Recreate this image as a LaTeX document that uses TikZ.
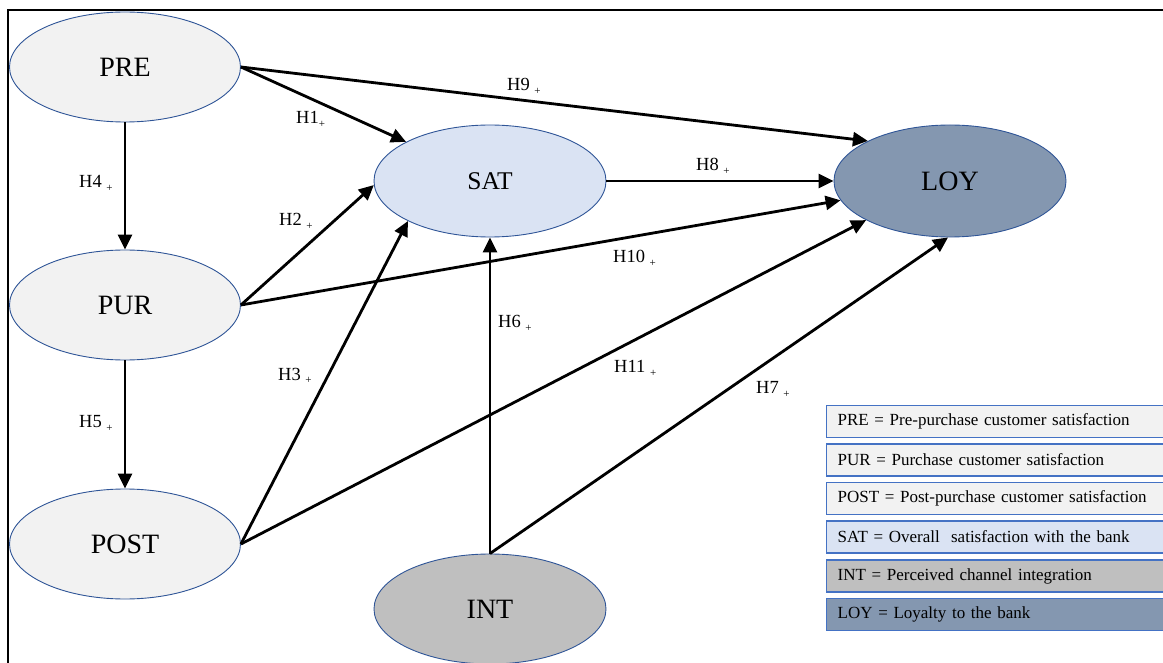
\documentclass[tikz,border=0pt]{standalone}
\usepackage{fontspec}
\setmainfont{Liberation Serif}
\usetikzlibrary{shapes.geometric,arrows.meta}

\definecolor{lightfill}{HTML}{F2F2F2}
\definecolor{satfill}{HTML}{DAE3F3}
\definecolor{intfill}{HTML}{BFBFBF}
\definecolor{loyfill}{HTML}{8497B0}
\definecolor{ellborder}{HTML}{2F5597}
\definecolor{boxborder}{HTML}{4472C4}

% small lowered plus sign after each hypothesis label
\newcommand{\subplus}{\raisebox{-4pt}{\fontsize{11}{11}\selectfont +}}

\tikzset{
  construct/.style={ellipse, draw=ellborder, line width=0.9pt, minimum width=231pt,
    minimum height=110pt, inner sep=0pt, font=\fontsize{28}{30}\selectfont},
  path/.style={line width=2.8pt, -{Triangle[length=15pt,width=14pt]}},
  hyp/.style={anchor=base west, inner sep=0pt, font=\fontsize{18.5}{20}\selectfont},
  legend/.style={rectangle, draw=boxborder, line width=1.3pt, anchor=west,
    minimum width=344pt, minimum height=32pt, inner xsep=11pt, inner ysep=0pt,
    text width=322pt, align=left, font=\fontsize{17}{19}\selectfont},
  frameline/.style={line width=2pt}
}

\begin{document}
\begin{tikzpicture}[x=1pt, y=-1pt]
  \useasboundingbox (0,0) rectangle (1163,663);
  \clip (0,0) rectangle (1163,663);

  % outer frame (top and left edges)
  \coordinate (fTL) at (8,10);
  \coordinate (fTR) at (1170,10);
  \coordinate (fBL) at (8,670);
  \draw[frameline] (fTR) -- (fTL) -- (fBL);

  % constructs
  \node[construct, fill=lightfill] (PRE)  at (125,67)  {PRE};
  \node[construct, fill=lightfill] (PUR)  at (125,305) {PUR};
  \node[construct, fill=lightfill] (POST) at (125,544) {POST};
  \node[construct, fill=satfill, minimum width=232pt, minimum height=112pt,
        font=\fontsize{25.5}{27}\selectfont] (SAT) at (490,181) {SAT};
  \node[construct, fill=loyfill, minimum width=232pt, minimum height=112pt] (LOY) at (950,181) {LOY};
  \node[construct, fill=intfill, minimum width=232pt] (INT) at (490,609) {INT};

  % structural paths
  \draw[path] (PRE.south) -- (PUR.north);
  \draw[path] (PUR.south) -- (POST.north);
  \draw[path] (PRE.east) -- (SAT.155);
  \draw[path] (PRE.east) -- (LOY.154);
  \draw[path] (PUR.east) -- (SAT.182);
  \draw[path] (PUR.east) -- (LOY.190);
  \draw[path] (POST.east) -- (SAT.206);
  \draw[path] (POST.east) -- (LOY.205);
  \draw[path] (SAT.east) -- (LOY.west);
  \draw[path] (INT.north) -- (SAT.south);
  \draw[path] (INT.north) -- (LOY.268);

  % hypothesis labels
  \node[hyp] (lH1)  at (296,124) {H1\subplus};
  \node[hyp] (lH2)  at (279,226) {H2 \subplus};
  \node[hyp] (lH3)  at (278,380) {H3 \subplus};
  \node[hyp] (lH4)  at (79,188)  {H4 \subplus};
  \node[hyp] (lH5)  at (79,427)  {H5 \subplus};
  \node[hyp] (lH6)  at (498,327) {H6 \subplus};
  \node[hyp] (lH7)  at (756,393) {H7 \subplus};
  \node[hyp] (lH8)  at (696,171) {H8 \subplus};
  \node[hyp] (lH9)  at (507,91)  {H9 \subplus};
  \node[hyp] (lH10) at (613,263) {H10 \subplus};
  \node[hyp] (lH11) at (614,373) {H11 \subplus};

  % legend
  \node[legend, fill=lightfill] (legPRE)  at (826,421.5) {PRE = Pre-purchase customer satisfaction};
  \node[legend, fill=lightfill] (legPUR)  at (826,460)   {PUR = Purchase customer satisfaction};
  \node[legend, fill=lightfill] (legPOST) at (826,498.5) {POST = Post-purchase customer satisfaction};
  \node[legend, fill=satfill]   (legSAT)  at (826,537)   {SAT = Overall\ \ satisfaction with the bank};
  \node[legend, fill=intfill]   (legINT)  at (826,576)   {INT = Perceived channel integration};
  \node[legend, fill=loyfill]   (legLOY)  at (826,614.5) {LOY = Loyalty to the bank};
\end{tikzpicture}
\end{document}
